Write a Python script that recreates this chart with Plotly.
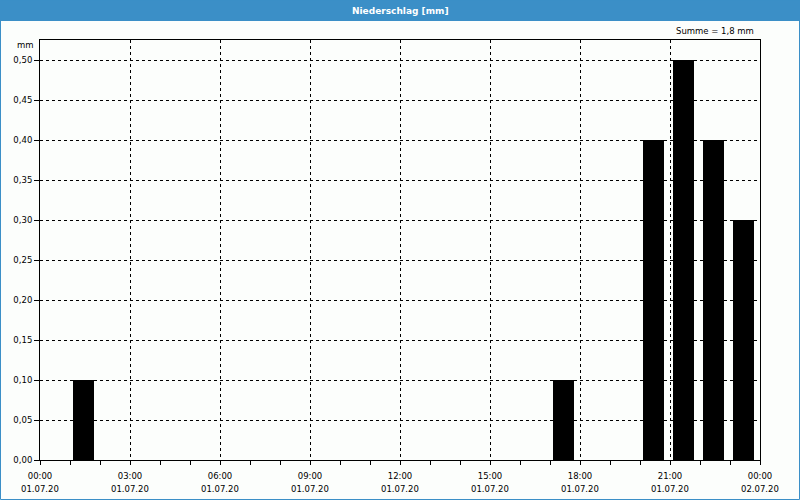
import plotly.graph_objects as go

# Data
bar_hours = ["2020-07-01 01:00", "2020-07-01 17:00", "2020-07-01 20:00",
             "2020-07-01 21:00", "2020-07-01 22:00", "2020-07-01 23:00"]
precip_mm = [0.1, 0.1, 0.4, 0.5, 0.4, 0.3]
tick_times = ["2020-07-01 00:00", "2020-07-01 03:00", "2020-07-01 06:00",
              "2020-07-01 09:00", "2020-07-01 12:00", "2020-07-01 15:00",
              "2020-07-01 18:00", "2020-07-01 21:00", "2020-07-02 00:00"]
tick_time_labels = ["00:00", "03:00", "06:00", "09:00", "12:00", "15:00",
                    "18:00", "21:00", "00:00"]
tick_date_labels = ["01.07.20", "01.07.20", "01.07.20", "01.07.20", "01.07.20",
                    "01.07.20", "01.07.20", "01.07.20", "02.07.20"]
y_ticks = [0.0, 0.05, 0.10, 0.15, 0.20, 0.25, 0.30, 0.35, 0.40, 0.45, 0.50]
title_text = "Niederschlag [mm]"
sum_text = "Summe = 1,8 mm"

HOUR_MS = 3600 * 1000
BLUE = "#3b8fc7"
FONT = "DejaVu Sans"
FS = 8.5

fig = go.Figure()
fig.add_trace(go.Bar(
    x=bar_hours, y=precip_mm,
    width=[0.7 * HOUR_MS] * len(precip_mm),
    offset=0.1 * HOUR_MS,
    marker=dict(color="#000000", line=dict(width=0)),
    hoverinfo="x+y",
))

annotations = [
    dict(text="<b>" + title_text + "</b>", xref="paper", yref="paper",
         x=0.5, y=1 + 29.5 / 420, xanchor="center", yanchor="middle",
         showarrow=False, font=dict(family=FONT, size=9, color="#ffffff")),
    dict(text=sum_text, xref="paper", yref="paper",
         x=1 - 4 / 720, y=1 + 9 / 420, xanchor="right", yanchor="middle",
         showarrow=False, font=dict(family=FONT, size=FS)),
    dict(text="mm", xref="paper", yref="paper",
         x=-4 / 720, y=1 - 5 / 420, xanchor="right", yanchor="middle",
         showarrow=False, font=dict(family=FONT, size=FS)),
]
for t, d in zip(tick_times, tick_date_labels):
    annotations.append(dict(text=d, xref="x", yref="paper", x=t,
                            y=-29 / 420, xanchor="center", yanchor="middle",
                            showarrow=False, font=dict(family=FONT, size=FS)))

fig.update_layout(
    width=800, height=500,
    margin=dict(l=40, r=40, t=40, b=40),
    paper_bgcolor="#fcfefc",
    plot_bgcolor="#fcfefc",
    separators=",.",
    showlegend=False,
    font=dict(family=FONT, size=FS, color="#000000"),
    bargap=0,
    xaxis=dict(
        type="date",
        range=["2020-07-01 00:00", "2020-07-02 00:00"],
        tickvals=tick_times, ticktext=tick_time_labels,
        showgrid=True, gridcolor="#000000", griddash="3px,3px", gridwidth=1,
        showline=True, linecolor="#000000", linewidth=1, mirror=True,
        ticks="outside", ticklen=4, tickcolor="#000000",
        ticklabelstandoff=4,
        minor=dict(dtick=HOUR_MS, ticks="outside", ticklen=4,
                   tickcolor="#000000", showgrid=False),
        zeroline=False, fixedrange=True,
        tickfont=dict(family=FONT, size=FS),
    ),
    yaxis=dict(
        range=[0, 0.525],
        tickvals=y_ticks, tickformat=".2f",
        showgrid=True, gridcolor="#000000", griddash="3px,3px", gridwidth=1,
        showline=True, linecolor="#000000", linewidth=1, mirror=True,
        ticks="outside", ticklen=5, tickcolor="#000000",
        zeroline=False, fixedrange=True,
        tickfont=dict(family=FONT, size=FS),
    ),
    shapes=[
        dict(type="rect", xref="paper", yref="paper",
             x0=-40 / 720, x1=1 + 40 / 720,
             y0=1 + 19 / 420, y1=1 + 40 / 420,
             fillcolor=BLUE, line=dict(width=0), layer="above"),
        dict(type="rect", xref="paper", yref="paper",
             x0=-39.5 / 720, x1=1 + 39.5 / 720,
             y0=-39.5 / 420, y1=1 + 40 / 420,
             fillcolor="rgba(0,0,0,0)", line=dict(width=1, color=BLUE),
             layer="above"),
    ],
    annotations=annotations,
)

fig.write_html("out.html")
